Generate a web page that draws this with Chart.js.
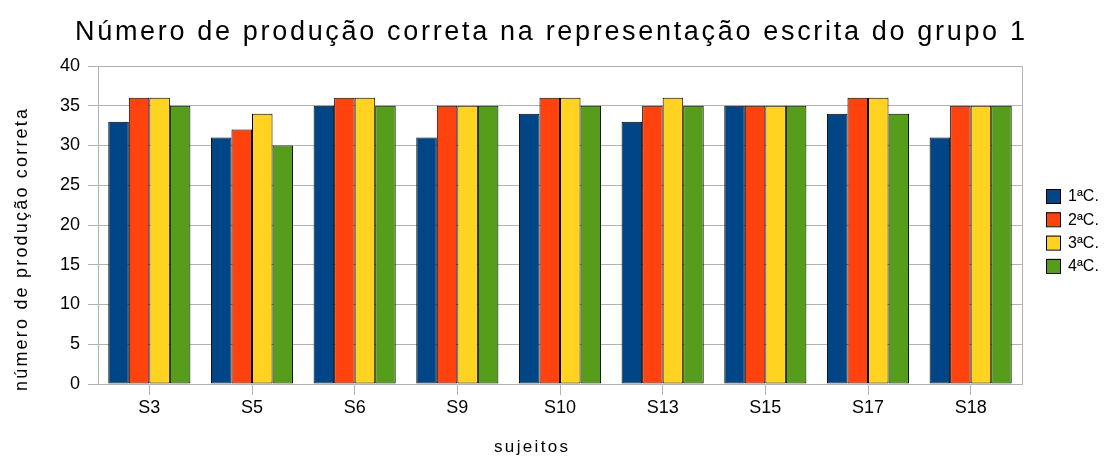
<!DOCTYPE html>
<html>
<head>
<meta charset="utf-8">
<script src="https://cdn.jsdelivr.net/npm/chart.js"></script>
<style>
  html, body { margin: 0; padding: 0; background: #fff; }
  #wrap { width: 1106px; height: 459px; }
</style>
</head>
<body>
<div id="wrap"><canvas id="chart" width="1106" height="459"></canvas></div>
<script>
// values
const subjects = ['S3', 'S5', 'S6', 'S9', 'S10', 'S13', 'S15', 'S17', 'S18'];
const seriesNames = ['1ªC.', '2ªC.', '3ªC.', '4ªC.'];
const c1 = [33, 31, 35, 31, 34, 33, 35, 34, 31];
const c2 = [36, 32, 36, 35, 36, 35, 35, 36, 35];
const c3 = [36, 34, 36, 35, 36, 36, 35, 36, 35];
const c4 = [35, 30, 35, 35, 35, 35, 35, 34, 35];
const yTicks = [0, 5, 10, 15, 20, 25, 30, 35, 40];

const colors = ['#004586', '#ff420e', '#ffd320', '#579d1c'];
const FONT = '"Liberation Sans", Arial, sans-serif';
const GRID = '#b3b3b3';

// draws a string stretched to a given length (the original has wide letter spacing)
function spacedText(ctx, text, x, y, size, length) {
    ctx.font = size + 'px ' + FONT;
    ctx.letterSpacing = '0px';
    const w = ctx.measureText(text).width;
    const sp = Math.max(0, (length - w) / (text.length - 1));
    ctx.letterSpacing = sp + 'px';
    const w2 = ctx.measureText(text).width - sp;
    ctx.textAlign = 'left';
    ctx.textBaseline = 'middle';
    ctx.fillText(text, x - w2 / 2, y);
    ctx.letterSpacing = '0px';
}

const decorPlugin = {
    id: 'decor',
    afterDraw(chart) {
        const ctx = chart.ctx;
        const a = chart.chartArea;
        ctx.save();
        // frame of the plot area
        ctx.strokeStyle = GRID;
        ctx.lineWidth = 1;
        ctx.strokeRect(Math.round(a.left) + 0.5, Math.round(a.top) + 0.5,
            Math.round(a.right - a.left), Math.round(a.bottom - a.top));

        ctx.fillStyle = '#000';
        spacedText(ctx, 'Número de produção correta na representação escrita do grupo 1', 550, 33, 27, 950);
        spacedText(ctx, 'sujeitos', 531, 447, 17, 74);
        ctx.save();
        ctx.translate(22, 250);
        ctx.rotate(-Math.PI / 2);
        spacedText(ctx, 'número de produção correta', 0, 0, 18, 282);
        ctx.restore();

        // legend
        ctx.font = '16px ' + FONT;
        ctx.textBaseline = 'middle';
        ctx.textAlign = 'left';
        chart.data.datasets.forEach((ds, i) => {
            const y = 196 + i * 23.3;
            ctx.fillStyle = ds.backgroundColor;
            ctx.fillRect(1046, y - 7, 14, 14);
            ctx.strokeStyle = '#000';
            ctx.strokeRect(1046.5, y - 6.5, 14, 14);
            ctx.fillStyle = '#000';
            ctx.fillText(ds.label, 1068, y + 1);
        });
        ctx.restore();
    }
};

const data = [c1, c2, c3, c4];

new Chart(document.getElementById('chart'), {
    type: 'bar',
    data: {
        labels: subjects,
        datasets: seriesNames.map((name, i) => ({
            label: name,
            data: data[i],
            backgroundColor: colors[i],
            borderColor: '#000',
            borderWidth: 1,
            borderSkipped: false,
            barPercentage: 1,
            categoryPercentage: 0.8
        }))
    },
    options: {
        responsive: false,
        devicePixelRatio: 1,
        animation: false,
        layout: { padding: { top: 66, right: 84, bottom: 0, left: 0 } },
        plugins: {
            legend: { display: false },
            title: { display: false },
            tooltip: { enabled: false }
        },
        scales: {
            y: {
                min: 0,
                max: 40,
                afterBuildTicks: s => { s.ticks = yTicks.map(v => ({ value: v })); },
                afterFit: s => { s.width = 98; },
                grid: { color: GRID, tickLength: 10, drawTicks: true },
                border: { color: GRID },
                ticks: { color: '#000', font: { family: FONT, size: 18 }, padding: 8 }
            },
            x: {
                afterFit: s => { s.height = 75; },
                grid: { offset: false, drawOnChartArea: false, color: GRID, tickLength: 11 },
                border: { color: GRID },
                ticks: { color: '#000', font: { family: FONT, size: 18 }, padding: 2 }
            }
        }
    },
    plugins: [decorPlugin]
});
</script>
</body>
</html>
